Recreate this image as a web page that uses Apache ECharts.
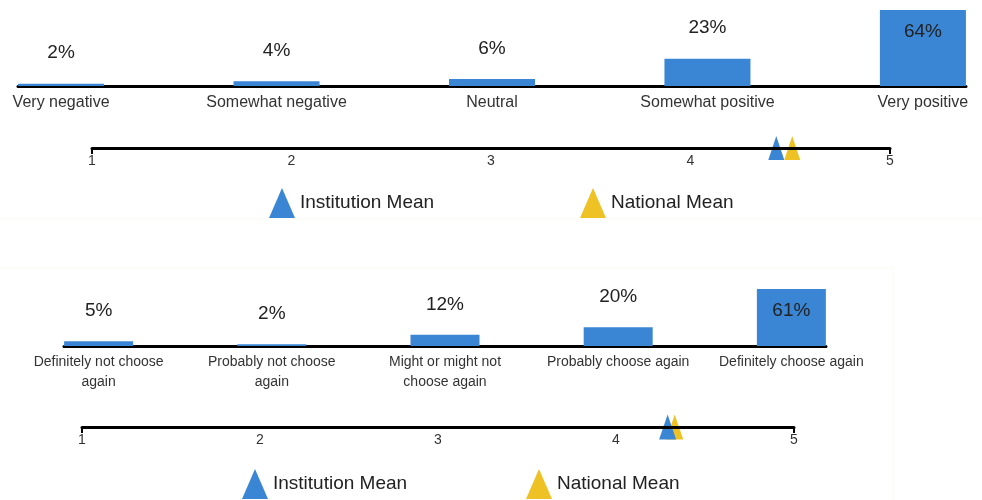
<!DOCTYPE html>
<html>
<head>
<meta charset="utf-8">
<script src="https://cdn.jsdelivr.net/npm/echarts@6/dist/echarts.min.js"></script>
<style>
  html, body { margin: 0; padding: 0; background: #fff; }
  #chart { width: 982px; height: 500px; }
</style>
</head>
<body>
<div id="chart"></div>
<script>
// top panel: overall experience
var topCategories = ['Very negative', 'Somewhat negative', 'Neutral', 'Somewhat positive', 'Very positive'];
var topPercents = [2, 4, 6, 23, 64];
var topInstitutionMean = 4.43;
var topNationalMean = 4.51;

// bottom panel: choose again
var bottomCategories = ['Definitely not choose\nagain', 'Probably not choose\nagain', 'Might or might not\nchoose again', 'Probably choose again', 'Definitely choose again'];
var bottomPercents = [5, 2, 12, 20, 61];
var bottomInstitutionMean = 4.29;
var bottomNationalMean = 4.33;

var scaleTicks = [1, 2, 3, 4, 5];

var BLUE = '#3a86d4';
var YELLOW = '#eec125';
var FONT = '"Liberation Sans", Arial, sans-serif';

function barData(values) {
  return values.map(function(v, i) {
    var big = v > 50;
    return {
      value: [i + 1, v],
      label: {
        position: big ? 'insideTop' : 'top',
        distance: big ? 12 : 21
      }
    };
  });
}

function catAxis(gridIndex, cats, fontSize, margin, lineHeight) {
  return {
    type: 'value', gridIndex: gridIndex, min: 0.8, max: 5.2,
    splitLine: { show: false },
    axisTick: { show: false },
    axisLine: { show: true, onZero: false, lineStyle: { color: '#000', width: 3 } },
    axisLabel: {
      customValues: scaleTicks, margin: margin, color: '#333', fontSize: fontSize,
      fontFamily: FONT, lineHeight: lineHeight,
      formatter: function(v) { return cats[Math.round(v) - 1]; }
    }
  };
}

function scaleAxis(gridIndex) {
  return {
    type: 'value', gridIndex: gridIndex, min: 1, max: 5, interval: 1, z: 10,
    splitLine: { show: false },
    axisLine: { show: true, onZero: false, lineStyle: { color: '#000', width: 3 } },
    axisTick: { show: true, customValues: [1, 5], length: 6, lineStyle: { color: '#000', width: 2 } },
    axisLabel: { margin: 6, color: '#333', fontSize: 14, fontFamily: FONT }
  };
}

function hiddenY(gridIndex, max) {
  return { type: 'value', gridIndex: gridIndex, min: 0, max: max, show: false };
}

function meanSeries(name, color, axisIdx, value, size) {
  return {
    name: name, type: 'scatter', xAxisIndex: axisIdx, yAxisIndex: axisIdx,
    symbol: 'triangle', symbolSize: size,
    itemStyle: { color: color, opacity: 1 },
    data: [[value, 0]], z: 3
  };
}

function legendAt(name, left, top) {
  return {
    data: [name], left: left, top: top, padding: 0,
    icon: 'triangle', itemWidth: 26, itemHeight: 30, itemGap: 4,
    selectedMode: false,
    textStyle: { fontSize: 19, color: '#222', fontFamily: FONT }
  };
}

var barLabel = { show: true, fontSize: 19, color: '#222', fontFamily: FONT, formatter: function(p) { return p.value[1] + '%'; } };

var chart = echarts.init(document.getElementById('chart'));
chart.setOption({
  backgroundColor: '#fff',
  animation: false,
  grid: [
    { left: 18, right: 16, top: 10, height: 76 },
    { left: 92, right: 92, top: 128, height: 20 },
    { left: 64, right: 156, top: 289, height: 57 },
    { left: 82, right: 188, top: 407, height: 20 }
  ],
  xAxis: [
    catAxis(0, topCategories, 16, 8, 18),
    scaleAxis(1),
    catAxis(2, bottomCategories, 14, 6, 20),
    scaleAxis(3)
  ],
  yAxis: [hiddenY(0, 64), hiddenY(1, 1), hiddenY(2, 61), hiddenY(3, 1)],
  legend: [
    legendAt('Institution Mean', 269, 188),
    legendAt('National Mean', 580, 188),
    legendAt('Institution Mean', 242, 469),
    legendAt('National Mean', 526, 469)
  ],
  graphic: [
    { type: 'line', shape: { x1: 0, y1: 219, x2: 982, y2: 219 }, style: { stroke: '#fbfaf1', lineWidth: 1 }, silent: true },
    { type: 'line', shape: { x1: 0, y1: 268, x2: 893, y2: 268 }, style: { stroke: '#fbfaf1', lineWidth: 1 }, silent: true },
    { type: 'line', shape: { x1: 893, y1: 268, x2: 893, y2: 500 }, style: { stroke: '#fbfaf1', lineWidth: 1 }, silent: true }
  ],
  series: [
    { type: 'bar', xAxisIndex: 0, yAxisIndex: 0, barWidth: 86, itemStyle: { color: BLUE }, label: barLabel, data: barData(topPercents) },
    meanSeries('Institution Mean', BLUE, 1, topInstitutionMean, [16, 24]),
    meanSeries('National Mean', YELLOW, 1, topNationalMean, [16, 24]),
    { type: 'bar', xAxisIndex: 2, yAxisIndex: 2, barWidth: 69, itemStyle: { color: BLUE }, label: barLabel, data: barData(bottomPercents) },
    meanSeries('National Mean', YELLOW, 3, bottomNationalMean, [17, 25]),
    meanSeries('Institution Mean', BLUE, 3, bottomInstitutionMean, [17, 25])
  ]
});
</script>
</body>
</html>
